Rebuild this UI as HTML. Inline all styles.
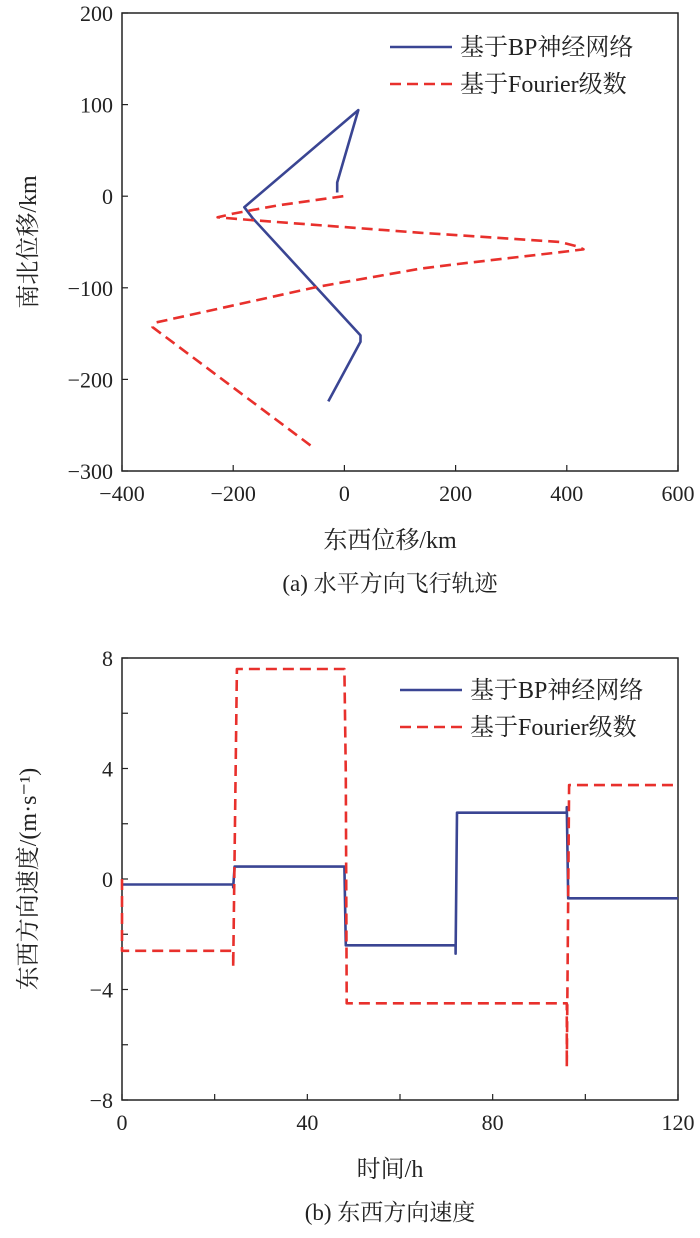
<!DOCTYPE html>
<html><head><meta charset="utf-8"><style>
body{margin:0;background:#fff;}
svg text{font-family:"Liberation Serif","Noto Serif CJK SC",serif;fill:#222;}
</style></head><body>
<svg id="s" width="700" height="1233" xmlns="http://www.w3.org/2000/svg">
<g id="ga"></g>
<g id="gb"></g>
</svg>
<script>
// Chart (a) data
const aXTicks=[-400,-200,0,200,400,600];
const aYTicks=[200,100,0,-100,-200,-300];
const bpEast=[-13,-13,25,-180,-165,29,29,-29];
const bpNorth=[4,15,94,-12,-24,-152,-159,-224];
const fsEast=[-2,-120,-200,-228,-169,137,190,388,420,430,390,190,137,-49,-340,-345,-61];
const fsNorth=[0,-10,-19,-23,-26,-40,-42,-50,-55,-58,-61,-75,-79,-99,-138,-143,-272];
// Chart (b) data
const bXTicks=[0,40,80,120];
const bYTicks=[8,4,0,-4,-8];
const bpT=[0,24,24,24.3,48,48.3,72,72,72.3,96,96,96.3,120];
const bpV=[-0.2,-0.2,-0.3,0.45,0.45,-2.4,-2.4,-2.7,2.4,2.4,2.6,-0.7,-0.7];
const fsT=[0,0,24,24,24.8,48,48.3,48.5,96,96,96.5,120];
const fsV=[0,-2.6,-2.6,-3.2,7.6,7.6,3.8,-4.5,-4.5,-6.8,3.4,3.4];

const NS='http://www.w3.org/2000/svg';
function mk(p,tag,at,txt){const e=document.createElementNS(NS,tag);for(const k in at)e.setAttribute(k,at[k]);if(txt!==undefined)e.textContent=txt;p.appendChild(e);return e;}

function chart(g,o){
  const sx=v=>o.x0+(v-o.xmin)/(o.xmax-o.xmin)*(o.x1-o.x0);
  const sy=v=>o.y1-(v-o.ymin)/(o.ymax-o.ymin)*(o.y1-o.y0);
  const box=mk(g,'rect',{x:o.x0,y:o.y0,width:o.x1-o.x0,height:o.y1-o.y0,fill:'none',stroke:'#222','stroke-width':1.5});
  
  
  for(let v=o.xmin;v<=o.xmax;v+=o.xminor){const t=mk(g,'line',{x1:sx(v),x2:sx(v),y1:o.y1,y2:o.y1-6,stroke:'#222','stroke-width':1.2});
    }
  for(let v=o.ymin;v<=o.ymax;v+=o.yminor){const t=mk(g,'line',{x1:o.x0,x2:o.x0+6,y1:sy(v),y2:sy(v),stroke:'#222','stroke-width':1.2});
    }
  o.xt.forEach(v=>{const t=mk(g,'text',{x:sx(v),y:o.y1+30,'font-size':22,'text-anchor':'middle'},String(v).replace('-','−'));
    });
  o.yt.forEach(v=>{const t=mk(g,'text',{x:o.x0-9,y:sy(v)+8,'font-size':22,'text-anchor':'end'},String(v).replace('-','−'));
    });
  o.series.forEach(s=>{const d=s.x.map((v,i)=>(i?'L':'M')+sx(v).toFixed(1)+','+sy(s.y[i]).toFixed(1)).join('');
    const p=mk(g,'path',{d:d,fill:'none',stroke:s.c,'stroke-width':2.6,'stroke-dasharray':s.dash||'none','stroke-linejoin':'round'});
    });
  o.series.forEach((s,i)=>{const y=o.ly+i*37;
    const l=mk(g,'line',{x1:o.lx,x2:o.lx+62,y1:y,y2:y,stroke:s.c,'stroke-width':2.6,'stroke-dasharray':s.dash||'none'});
    
    const t=mk(g,'text',{x:o.lx+70,y:y+8,'font-size':24},s.label);
    });
  const xl=mk(g,'text',{x:(o.x0+o.x1)/2-10,y:o.y1+77,'font-size':24,'text-anchor':'middle'},o.xlab);
  
  const cy=(o.y0+o.y1)/2;
  const yl=mk(g,'text',{x:36,y:cy,'font-size':24,'text-anchor':'middle',transform:'rotate(-90 36 '+cy+')'},o.ylab);
  
  const cp=mk(g,'text',{x:(o.x0+o.x1)/2-10,y:o.y1+120,'font-size':23,'text-anchor':'middle'},o.cap);
  
}
chart(document.getElementById('ga'),{x0:122,x1:678,y0:13,y1:471,xmin:-400,xmax:600,ymin:-300,ymax:200,xminor:200,yminor:100,
 xt:aXTicks,yt:aYTicks,lx:390,ly:47,xlab:'东西位移/km',ylab:'南北位移/km',cap:'(a) 水平方向飞行轨迹',
 series:[{x:bpEast,y:bpNorth,c:'#3a4593',name:'bp-trajectory-line',label:'基于BP神经网络'},
         {x:fsEast,y:fsNorth,c:'#e8302c',dash:'11 6',name:'fourier-trajectory-line',label:'基于Fourier级数'}]});
chart(document.getElementById('gb'),{x0:122,x1:678,y0:658,y1:1100,xmin:0,xmax:120,ymin:-8,ymax:8,xminor:20,yminor:2,
 xt:bXTicks,yt:bYTicks,lx:400,ly:690,xlab:'时间/h',ylab:'东西方向速度/(m·s⁻¹)',cap:'(b) 东西方向速度',
 series:[{x:bpT,y:bpV,c:'#3a4593',name:'bp-velocity-line',label:'基于BP神经网络'},
         {x:fsT,y:fsV,c:'#e8302c',dash:'11 6',name:'fourier-velocity-line',label:'基于Fourier级数'}]});
</script>
</body></html>
